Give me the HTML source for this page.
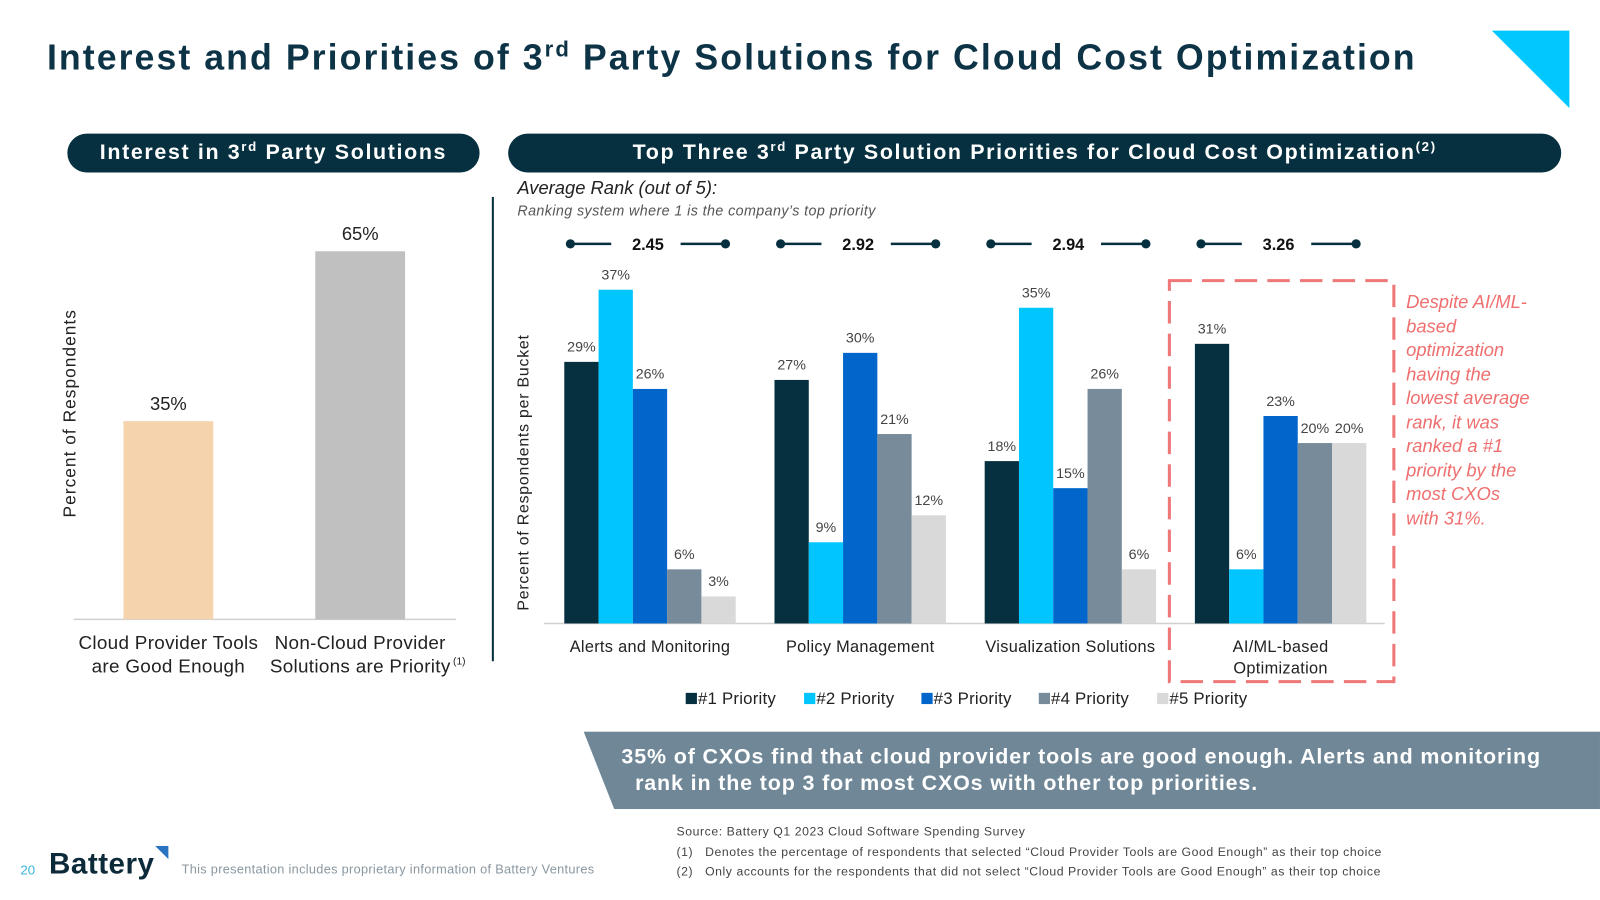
<!DOCTYPE html>
<html><head><meta charset="utf-8">
<style>
html,body{margin:0;padding:0;background:#fff;width:1600px;height:900px;overflow:hidden}
#s{position:absolute;left:0;top:0;width:1568px;height:882px;transform:scale(1.0204);transform-origin:0 0;font-family:"Liberation Sans",Arial,sans-serif}
.a{position:absolute;white-space:nowrap}
.pill{position:absolute;background:#06303f;color:#fff;font-weight:bold;font-size:21px;letter-spacing:1.6px;border-radius:20px;text-align:center;line-height:38px}
sup{font-size:0.62em;line-height:0}
</style></head><body>
<div id="s">
<div class="a" style="left:46px;top:37px;font-size:35px;font-weight:bold;color:#0d3347;letter-spacing:2px">Interest and Priorities of 3<sup>rd</sup> Party Solutions for Cloud Cost Optimization</div>
<svg class="a" style="left:1460px;top:29px" width="80" height="80"><polygon points="2,1 78,1 78,77" fill="#00c8ff"/></svg>
<div class="pill" style="left:66px;top:131px;width:404px">Interest in 3<sup>rd</sup> Party Solutions</div>
<div class="pill" style="left:498px;top:131px;width:1032px">Top Three 3<sup>rd</sup> Party Solution Priorities for Cloud Cost Optimization<sup>(2)</sup></div>
<div class="a" style="left:482px;top:193px;width:2px;height:455px;background:#06303f"></div>
<svg class="a" id="left" style="left:0;top:0" width="480" height="680"></svg>
<svg class="a" id="right" style="left:0;top:0" width="1568" height="720"></svg>
<div class="a" style="left:507px;top:174px;font-size:18px;font-style:italic;color:#222">Average Rank (out of 5):</div>
<div class="a" style="left:507px;top:198px;font-size:14px;font-style:italic;color:#555;letter-spacing:0.4px">Ranking system where 1 is the company’s top priority</div>
<div class="a" style="left:1378px;top:285px;font-size:18px;font-style:italic;color:#ef6f6f;line-height:23.5px">Despite AI/ML-<br>based<br>optimization<br>having the<br>lowest average<br>rank, it was<br>ranked a #1<br>priority by the<br>most CXOs<br>with 31%.</div>
<svg class="a" style="left:572px;top:717px" width="996" height="76"><polygon points="0,0 996,0 996,76 30,76" fill="#6f8797"/></svg>
<div class="a" style="left:609px;top:729px;font-size:21px;font-weight:bold;color:#fff;line-height:26px;letter-spacing:0.85px">35% of CXOs find that cloud provider tools are good enough. Alerts and monitoring<br>&nbsp;&nbsp;rank in the top 3 for most CXOs with other top priorities.</div>
<div class="a" style="left:663px;top:806px;font-size:12px;color:#444;line-height:19.5px;letter-spacing:0.55px">Source: Battery Q1 2023 Cloud Software Spending Survey<br>(1)&nbsp;&nbsp;&nbsp;Denotes the percentage of respondents that selected “Cloud Provider Tools are Good Enough” as their top choice<br>(2)&nbsp;&nbsp;&nbsp;Only accounts for the respondents that did not select “Cloud Provider Tools are Good Enough” as their top choice</div>
<div class="a" style="left:20px;top:845px;font-size:13px;color:#3ab6dc">20</div>
<div class="a" style="left:48px;top:831px;font-size:29px;font-weight:bold;color:#0d2a3a;letter-spacing:0.5px">Battery</div>
<svg class="a" style="left:152px;top:829px" width="14" height="14"><polygon points="0,0 13,0 13,13" fill="#2a73c0"/></svg>
<div class="a" style="left:178px;top:845px;font-size:12.5px;color:#8a97a0;letter-spacing:0.3px">This presentation includes proprietary information of Battery Ventures</div>
</div>
<script>
const leftCats=["Cloud Provider Tools|are Good Enough","Non-Cloud Provider|Solutions are Priority"];
const leftVals=[35,65];
const cats=["Alerts and Monitoring","Policy Management","Visualization Solutions","AI/ML-based|Optimization"];
const series=["#1 Priority","#2 Priority","#3 Priority","#4 Priority","#5 Priority"];
const p1=[29,27,18,31];
const p2=[37,9,35,6];
const p3=[26,30,15,23];
const p4=[6,21,26,20];
const p5=[3,12,6,20];
const ranks=["2.45","2.92","2.94","3.26"];
const NS="http://www.w3.org/2000/svg";
function mk(p,t,at,txt){const e=document.createElementNS(NS,t);for(const k in at)e.setAttribute(k,at[k]);if(txt!==undefined)e.textContent=txt;p.appendChild(e);return e;}
const L=document.getElementById('left');
const lY=v=>607-v*5.55;
let e=mk(L,'line',{x1:72,x2:447,y1:607,y2:607,stroke:'#d0d0d0','stroke-width':1.5});

e=mk(L,'text',{x:0,y:0,transform:'translate(74,405) rotate(-90)','text-anchor':'middle','font-size':17,'letter-spacing':1,fill:'#222'},'Percent of Respondents');

const lCol=["#f5d4ad","#c0c0c0"];
leftVals.forEach((v,i)=>{const cx=165+i*188;
 let r=mk(L,'rect',{x:cx-44,y:lY(v),width:88,height:607-lY(v),fill:lCol[i]});
 
 let t=mk(L,'text',{x:cx,y:lY(v)-11,'text-anchor':'middle','font-size':18,fill:'#222'},v+'%');
 
 leftCats[i].split('|').forEach((s,j)=>{let c=mk(L,'text',{x:cx,y:636+j*23,'text-anchor':'middle','font-size':18.5,'letter-spacing':0.3,fill:'#222'},s);
 });
});
let fn=mk(L,'text',{x:444,y:651,'font-size':10,fill:'#222'},'(1)');

const R=document.getElementById('right');
const yS=v=>611-v*8.84;
const cols=["#06303f","#00c5ff","#0066cc","#778b9b","#d9d9d9"];
const all=[p1,p2,p3,p4,p5];
e=mk(R,'line',{x1:533,x2:1357,y1:611,y2:611,stroke:'#d0d0d0','stroke-width':1.5});

e=mk(R,'text',{x:0,y:0,transform:'translate(518,463) rotate(-90)','text-anchor':'middle','font-size':15.5,'letter-spacing':0.8,fill:'#222'},'Percent of Respondents per Bucket');

cats.forEach((c,g)=>{const x0=553+g*206,bw=33.6,cx=x0+84;
 all.forEach((arr,s)=>{const v=arr[g];
  let r=mk(R,'rect',{x:x0+s*bw,y:yS(v),width:bw,height:611-yS(v),fill:cols[s]});
  
  let t=mk(R,'text',{x:x0+s*bw+bw/2,y:yS(v)-10,'text-anchor':'middle','font-size':14,fill:'#444'},v+'%');
  
 });
 c.split('|').forEach((s,j)=>{let t=mk(R,'text',{x:cx,y:639+j*21,'text-anchor':'middle','font-size':16,'letter-spacing':0.3,fill:'#222'},s);
  });
 const rc=cx-2;
 let l1=mk(R,'line',{x1:rc-76,x2:rc-36,y1:239,y2:239,stroke:'#06303f','stroke-width':2.5});
 
 let l2=mk(R,'line',{x1:rc+32,x2:rc+76,y1:239,y2:239,stroke:'#06303f','stroke-width':2.5});
 
 [rc-76,rc+76].forEach(x=>{let d=mk(R,'circle',{cx:x,cy:239,r:4.5,fill:'#06303f'});
  });
 let rt=mk(R,'text',{x:rc,y:245,'text-anchor':'middle','font-size':16,'font-weight':'bold',fill:'#111'},ranks[g]);
 
});
e=mk(R,'rect',{x:1146,y:275,width:220,height:393,fill:'none',stroke:'#ee7777','stroke-width':3,'stroke-dasharray':'22 10'});

const lx=[672,788,903,1018,1134];
series.forEach((s,i)=>{let r=mk(R,'rect',{x:lx[i],y:679,width:11,height:11,fill:cols[i]});
 
 let t=mk(R,'text',{x:lx[i]+12,y:690,'font-size':16.5,'letter-spacing':0.2,fill:'#222'},s);
 });
</script>
</body></html>
